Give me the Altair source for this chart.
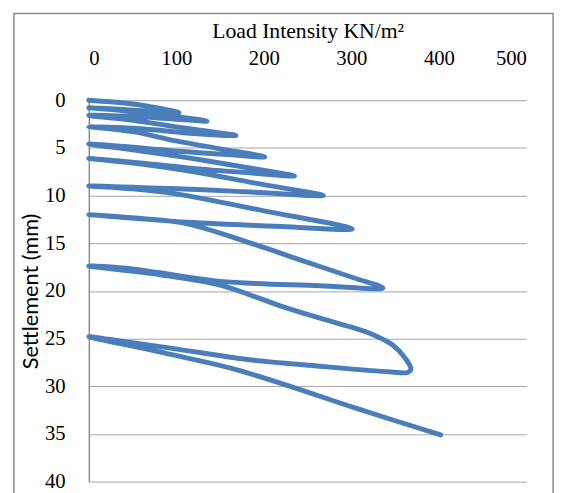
import altair as alt
import pandas as pd

# Cyclic plate-load test: load intensity (KN/m^2) vs settlement (mm), in drawing order
LOAD = [
    0, 35, 72, 103,                      # first loading
    70, 35, 0,                           # unload
    40, 90, 135,                         # reload
    100, 50, 0,
    50, 100, 168,
    120, 60, 0,
    50, 101, 150, 201,
    150, 94, 40, 0,
    50, 110, 170, 235,
    180, 113, 50, 0,
    60, 120, 190, 268,
    200, 131, 70, 0,
    50, 101, 200, 301,
    220, 113, 60, 0,
    60, 109, 182, 243, 305, 336,
    264, 150, 81, 40, 0,
    81, 150, 223, 262, 300, 325, 346, 361, 368, 364,
    345, 264, 182, 101, 40, 0,
    81, 162, 223, 305, 402,
]
SETTLEMENT = [
    0.0, 0.25, 0.7, 1.3,
    1.15, 0.95, 0.8,
    1.1, 1.6, 2.2,
    2.0, 1.7, 1.6,
    2.1, 2.8, 3.7,
    3.5, 3.0, 2.75,
    3.3, 4.3, 5.1, 5.95,
    5.65, 5.3, 4.85, 4.6,
    5.2, 6.0, 6.9, 7.95,
    7.6, 7.1, 6.5, 6.1,
    6.7, 7.5, 8.7, 10.0,
    9.7, 9.4, 9.2, 9.0,
    9.3, 9.85, 11.6, 13.5,
    13.25, 12.8, 12.45, 12.0,
    12.4, 12.9, 14.9, 16.8, 18.7, 19.7,
    19.45, 19.0, 18.1, 17.6, 17.4,
    18.3, 19.4, 21.7, 22.8, 23.8, 24.6, 25.6, 27.0, 28.2, 28.55,
    28.5, 27.9, 27.2, 26.1, 25.3, 24.8,
    26.4, 28.1, 29.8, 32.3, 35.1,
]
X_TICKS = [0, 100, 200, 300, 400, 500]
Y_TICKS = [0, 5, 10, 15, 20, 25, 30, 35, 40]

df = pd.DataFrame({"load": LOAD, "settlement": SETTLEMENT, "i": list(range(len(LOAD)))})

line = alt.Chart(df).mark_line(
    color="#4a7ebb", strokeWidth=5, interpolate="catmull-rom", strokeCap="round", strokeJoin="round"
).encode(
    x=alt.X("load:Q",
            scale=alt.Scale(domain=[0, 500], nice=False),
            axis=alt.Axis(orient="top", values=X_TICKS, title="Load Intensity KN/m²",
                          grid=False, domain=False, ticks=False, tickSize=0,
                          labelPadding=32, titlePadding=6,
                          labelFont="Liberation Serif", labelFontSize=21, labelColor="#000",
                          titleFont="Liberation Serif", titleFontSize=22, titleFontWeight="normal",
                          titleColor="#000")),
    y=alt.Y("settlement:Q",
            scale=alt.Scale(domain=[0, 40], reverse=True, nice=False),
            axis=alt.Axis(values=Y_TICKS, title="Settlement (mm)",
                          grid=True, gridColor="#a6a6a6", gridWidth=1,
                          domain=True, domainColor="#8c8c8c", domainWidth=1.5,
                          ticks=False, tickSize=0, labelPadding=24, titlePadding=2,
                          labelFont="Liberation Serif", labelFontSize=21, labelColor="#000",
                          titleFont="Lato", titleFontSize=22, titleFontWeight="normal",
                          titleColor="#000")),
    order="i:Q",
)

frame = alt.Chart(pd.DataFrame({"f": [0]})).mark_rect(
    fillOpacity=0, stroke="#8c8c8c", strokeWidth=1.5
).encode(
    x=alt.value(-76), x2=alt.value(471), y=alt.value(-88), y2=alt.value(420)
)

chart = alt.layer(frame, line).properties(
    width=444, height=387,
    autosize=alt.AutoSizeParams(type="none"),
    padding={"left": 82, "top": 90, "right": 31, "bottom": 8},
).configure_view(stroke=None)

chart.save("out.html", embed_options={"renderer": "svg", "actions": False})
